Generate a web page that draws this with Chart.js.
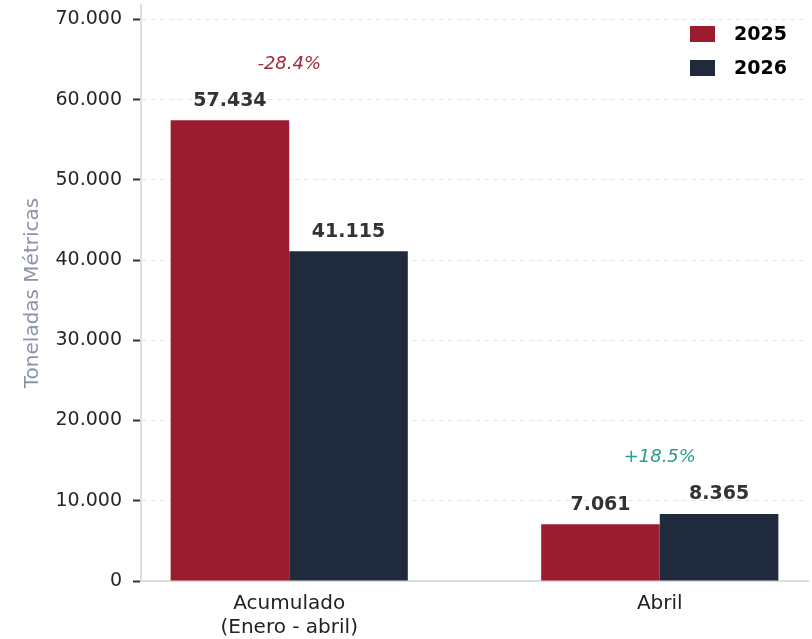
<!DOCTYPE html>
<html>
<head>
<meta charset="utf-8">
<script src="https://cdn.jsdelivr.net/npm/chart.js@4.4.1/dist/chart.umd.min.js"></script>
<style>
  html, body { margin: 0; padding: 0; background: #ffffff; }
  #wrap { width: 812px; height: 639px; }
</style>
</head>
<body>
<div id="wrap"><canvas id="grafico" width="812" height="639"></canvas></div>
<script>
// datos
var categorias = [['Acumulado', '(Enero - abril)'], 'Abril'];
var anios = ['2025', '2026'];
var valores2025 = [57434, 7061];
var valores2026 = [41115, 8365];
var variaciones = ['-28.4%', '+18.5%'];
var coloresVariacion = ['#a02a3e', '#2a9d8f'];
var ticksY = [0, 10000, 20000, 30000, 40000, 50000, 60000, 70000];

var rojo = '#9b1b30';
var azul = '#1f2a3c';
var fuente = "'DejaVu Sans', sans-serif";

function miles(v) {
    return String(Math.round(v)).replace(/\B(?=(\d{3})+(?!\d))/g, '.');
}

function puntos(arr) {
    var out = [];
    for (let i = 0; i < arr.length; i++) {
        out.push({x: i, y: arr[i]});
    }
    return out;
}

// etiquetas sobre barras, variaciones y leyenda
var etiquetas = {
    id: 'etiquetas',
    afterDatasetsDraw: function(chart) {
        var ctx = chart.ctx;
        var y = chart.scales.y;
        ctx.save();
        ctx.textAlign = 'center';
        ctx.textBaseline = 'bottom';
        ctx.font = 'bold 19px ' + fuente;
        ctx.fillStyle = '#333333';
        chart.data.datasets.forEach(function(ds, d) {
            var meta = chart.getDatasetMeta(d);
            meta.data.forEach(function(bar, i) {
                ctx.fillText(miles(ds.data[i].y), bar.x, bar.y - 10);
            });
        });

        ctx.font = 'italic 18px ' + fuente;
        ctx.textBaseline = 'middle';
        for (let i = 0; i < categorias.length; i++) {
            var mx = Math.max(valores2025[i], valores2026[i]);
            var px = chart.scales.x.getPixelForValue(i);
            ctx.fillStyle = coloresVariacion[i];
            ctx.fillText(variaciones[i], px, y.getPixelForValue(mx + 7000));
        }

        // leyenda
        ctx.textAlign = 'left';
        ctx.font = 'bold 19px ' + fuente;
        chart.data.datasets.forEach(function(ds, d) {
            var ly = 34 + d * 34;
            ctx.fillStyle = ds.backgroundColor;
            ctx.fillRect(690, ly - 8, 25, 16);
            ctx.fillStyle = '#000000';
            ctx.fillText(ds.label, 734, ly + 1);
        });
        ctx.restore();
    }
};

var ctx = document.getElementById('grafico');

var grafico = new Chart(ctx, {
    type: 'bar',
    data: {
        datasets: [{
            label: anios[0],
            data: puntos(valores2025),
            backgroundColor: rojo,
            borderWidth: 0
        }, {
            label: anios[1],
            data: puntos(valores2026),
            backgroundColor: azul,
            borderWidth: 0
        }]
    },
    options: {
        responsive: false,
        animation: false,
        devicePixelRatio: 1,
        categoryPercentage: 0.64,
        barPercentage: 1,
        layout: { padding: { top: 5, right: 4, left: 0, bottom: 0 } },
        plugins: {
            legend: { display: false },
            tooltip: { enabled: false }
        },
        scales: {
            x: {
                type: 'linear',
                min: -0.4,
                max: 1.4,
                offset: false,
                grid: { display: false, drawTicks: false, offset: false },
                border: { display: true, color: '#dddddd', width: 2 },
                afterBuildTicks: function(scale) {
                    scale.ticks = categorias.map(function(c, i) { return {value: i}; });
                },
                afterFit: function(scale) {
                    scale.height = 58;
                    scale.paddingLeft = 0;
                    scale.paddingRight = 0;
                },
                ticks: {
                    color: '#222222',
                    font: { family: fuente, size: 20, lineHeight: 1.2 },
                    padding: 11,
                    maxRotation: 0,
                    autoSkip: false,
                    callback: function(value) { return categorias[value]; }
                }
            },
            y: {
                min: 0,
                max: 71792.5,
                afterBuildTicks: function(scale) {
                    scale.ticks = ticksY.map(function(v) { return {value: v}; });
                },
                afterFit: function(scale) {
                    scale.width = 141;
                    scale.paddingTop = 0;
                    scale.paddingBottom = 0;
                },
                grid: {
                    color: '#e6e6e6',
                    lineWidth: 1,
                    tickColor: '#333333',
                    tickWidth: 2,
                    tickLength: 8
                },
                border: { display: true, color: '#dddddd', width: 2, dash: [5, 4] },
                ticks: {
                    color: '#262626',
                    font: { family: fuente, size: 19 },
                    padding: 11,
                    callback: function(value) { return miles(value); }
                },
                title: {
                    display: true,
                    text: 'Toneladas Métricas',
                    color: '#8b95a5',
                    font: { family: fuente, size: 20 },
                    padding: { top: 21, bottom: 0 }
                }
            }
        }
    },
    plugins: [etiquetas]
});
</script>
</body>
</html>
